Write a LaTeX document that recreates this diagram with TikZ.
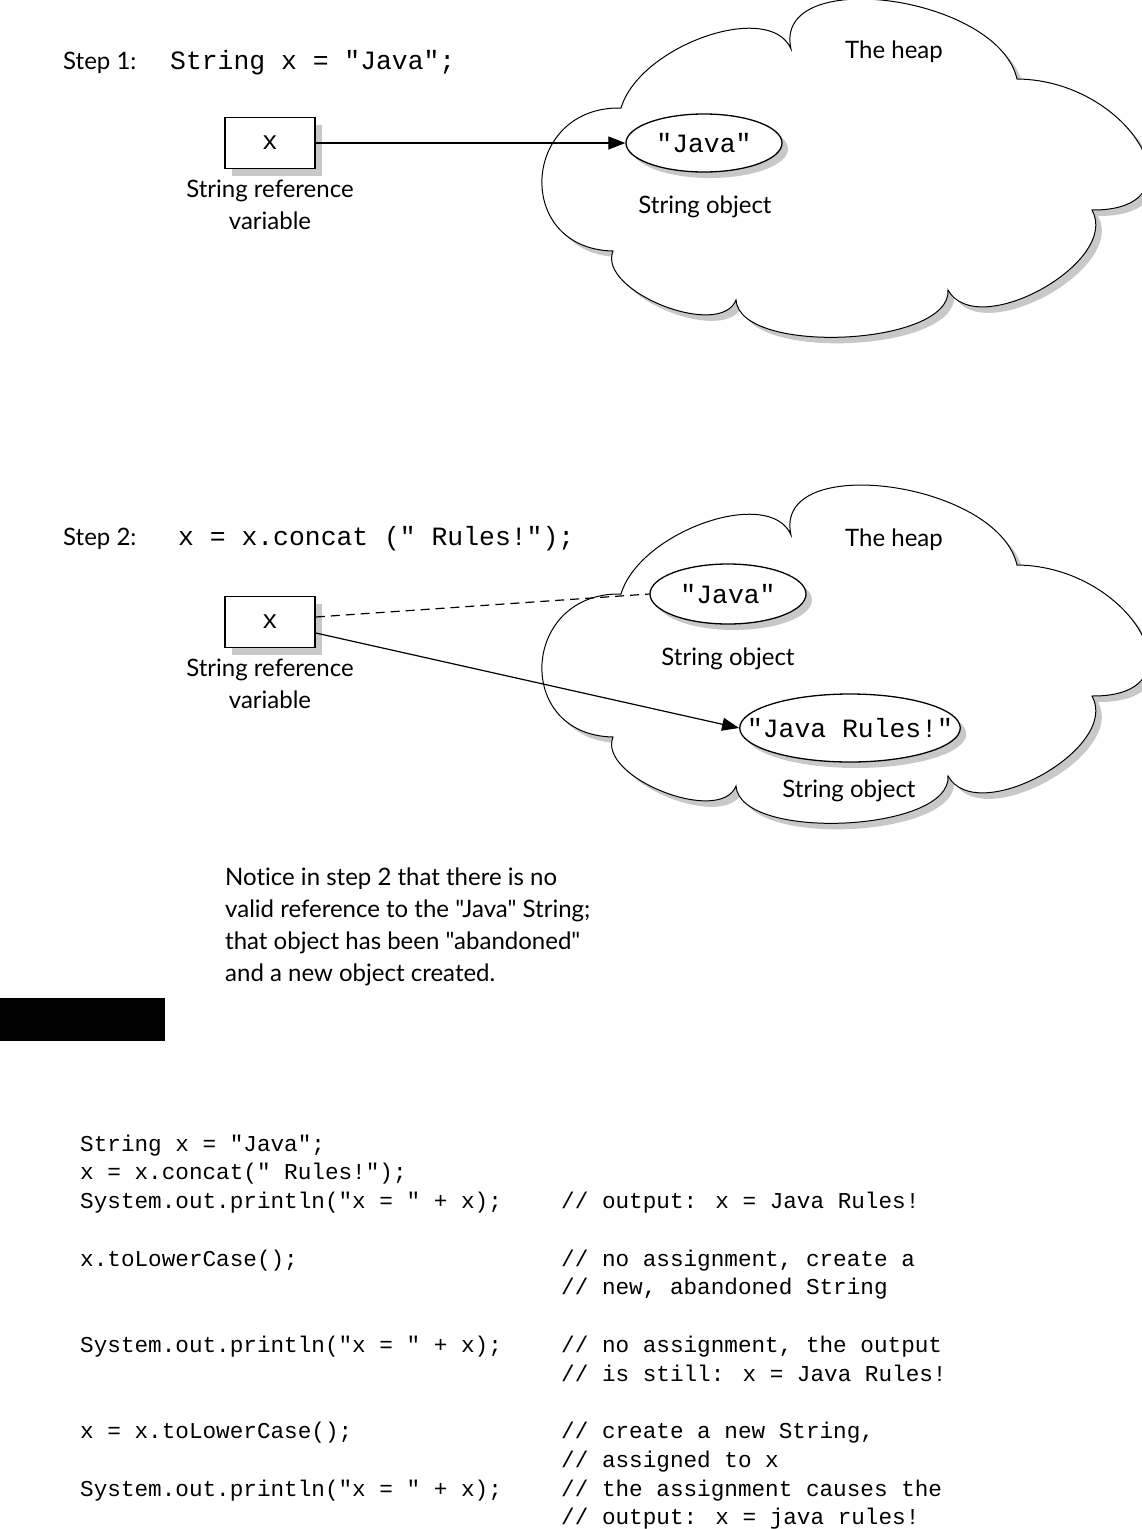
\documentclass[tikz,border=0pt]{standalone}
\usepackage{fontspec}
\newfontfamily\gill[Ligatures=NoCommon]{Lato}
\newfontfamily\cour{Liberation Mono}
\usetikzlibrary{arrows.meta,shapes.geometric,shadows}
\definecolor{shadowgray}{RGB}{200,200,200}
\tikzset{
  lbl/.style={font=\gill\fontsize{24}{32}\selectfont, inner sep=0pt},
  code/.style={font=\cour\fontsize{26.4}{30}\selectfont, inner sep=0pt},
  listing/.style={font=\cour\fontsize{22.67}{28}\selectfont, inner sep=0pt, anchor=base west},
  varbox/.style={draw, line width=1.6pt, fill=white, minimum width=90pt, minimum height=51pt,
    inner sep=0pt, font=\cour\fontsize{26}{30}\selectfont,
    general shadow={fill=shadowgray, shadow xshift=7pt, shadow yshift=-7pt}},
  obj/.style={ellipse, draw, line width=1.3pt, fill=white, inner sep=0pt,
    font=\cour\fontsize{26.4}{30}\selectfont,
    general shadow={fill=shadowgray, shadow xshift=6pt, shadow yshift=-6pt}},
  ptr/.style={line width=1.2pt, -{Triangle[length=17pt,width=13pt]}},
  gone/.style={line width=1.2pt, dash pattern=on 9pt off 6pt},
  heapcloud/.pic={
    \def\cloudpath{(621,108) .. controls (640,45) and (770,0) .. (791,49)
      .. controls (772,-35) and (998,-5) .. (1017,79)
      .. controls (1131,80) and (1206,211) .. (1092,210)
      .. controls (1121,262) and (977,342) .. (948,290)
      .. controls (952,346) and (740,356) .. (736,300)
      .. controls (720,340) and (597,291) .. (613,251)
      .. controls (513,249) and (521,106) .. (621,108) -- cycle}
    \fill[shadowgray, shift={(6,6)}] \cloudpath;
    \filldraw[fill=white, draw=black, line width=1pt] \cloudpath;
  }
}
\begin{document}
\begin{tikzpicture}[x=1pt,y=-1pt]
\useasboundingbox (0,0) rectangle (1141,1529);
\fill[white] (0,0) rectangle (1141,1529);

% ---------- Step 1 ----------
\pic at (0,0) {heapcloud};
\node[lbl, anchor=base west] (step1) at (63,69) {Step 1:};
\node[code, anchor=base west] (code1) at (170,69) {String x = "Java";};
\node[lbl, anchor=base] (heap1) at (894,58) {The heap};
\node[varbox] (x1) at (270,143) {x};
\node[lbl, align=center, anchor=north] (ref1) at (270,180) {String reference\\variable};
\node[obj, minimum width=156pt, minimum height=58pt] (java1) at (704,143) {"Java"};
\node[lbl, anchor=base] (obj1) at (705,213) {String object};
\draw[ptr] (x1.east) -- (java1.west);

% ---------- Step 2 ----------
\pic at (0,486) {heapcloud};
\node[lbl, anchor=base west] (step2) at (63,545) {Step 2:};
\node[code, anchor=base west] (code2) at (178,545) {x = x.concat (" Rules!");};
\node[lbl, anchor=base] (heap2) at (894,546) {The heap};
\node[varbox] (x2) at (270,622) {x};
\node[lbl, align=center, anchor=north] (ref2) at (270,659) {String reference\\variable};
\node[obj, minimum width=156pt, minimum height=60pt] (java2) at (728,594) {"Java"};
\node[lbl, anchor=base] (obj2) at (728,665) {String object};
\node[obj, inner xsep=-25pt, minimum width=220pt, minimum height=68pt] (rules) at (850,728) {"Java Rules!"};
\node[lbl, anchor=base] (obj3) at (849,797) {String object};
\draw[gone] ([yshift=5pt]x2.east) -- (java2.west);
\draw[ptr] ([yshift=-11pt]x2.east) -- (rules.west);

% ---------- Note ----------
\node[lbl, align=left, anchor=north west] (note) at (225,868)
  {Notice in step 2 that there is no\\valid reference to the "Java" String;\\that object has been "abandoned"\\and a new object created.};
\fill (0,998) rectangle (165,1041);

% ---------- Listing ----------
\node[listing] (k0) at (80,1151) {String x = "Java";};
\node[listing] (k1) at (80,1179.75) {x = x.concat(" Rules!");};
\node[listing] (k2) at (80,1208.5) {System.out.println("x = " + x);};
\node[listing] (m2) at (561,1208.5) {// output: x = Java Rules!};
\node[listing] (k4) at (80,1266) {x.toLowerCase();};
\node[listing] (m4) at (561,1266) {// no assignment, create a};
\node[listing] (m5) at (561,1294.75) {// new, abandoned String};
\node[listing] (k7) at (80,1352.25) {System.out.println("x = " + x);};
\node[listing] (m7) at (561,1352.25) {// no assignment, the output};
\node[listing] (m8) at (561,1381) {// is still: x = Java Rules!};
\node[listing] (k10) at (80,1438.5) {x = x.toLowerCase();};
\node[listing] (m10) at (561,1438.5) {// create a new String,};
\node[listing] (m11) at (561,1467.25) {// assigned to x};
\node[listing] (k12) at (80,1496) {System.out.println("x = " + x);};
\node[listing] (m12) at (561,1496) {// the assignment causes the};
\node[listing] (m13) at (561,1524.75) {// output: x = java rules!};
\end{tikzpicture}
\end{document}
